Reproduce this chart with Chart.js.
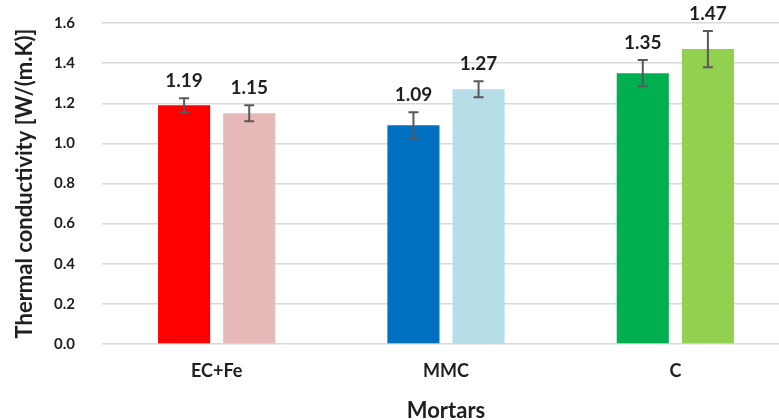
<!DOCTYPE html>
<html>
<head>
<meta charset="utf-8">
<script src="https://cdn.jsdelivr.net/npm/chart.js@4.4.1/dist/chart.umd.min.js"></script>
<style>
  html, body { margin: 0; padding: 0; background: #fff; overflow: hidden; }
  #wrap { width: 790px; height: 420px; position: relative; }
</style>
</head>
<body>
<div id="wrap"><canvas id="c"></canvas></div>
<script>
// Mortar types on the x axis
const categories = ['EC+Fe', 'MMC', 'C'];
// Thermal conductivity, first and second bar of each group [W/(m.K)]
const seriesA = [1.19, 1.09, 1.35];
const seriesB = [1.15, 1.27, 1.47];
// Standard deviations drawn as error bars
const errorA = [0.035, 0.065, 0.065];
const errorB = [0.04, 0.04, 0.09];
// Y axis ticks
const yTicks = [0, 0.2, 0.4, 0.6, 0.8, 1.0, 1.2, 1.4, 1.6];

const colorsA = ['#FF0000', '#0070C0', '#00B050'];
const colorsB = ['#E6B8B7', '#B7DEE8', '#92D050'];
const FONT = 'Lato, "Open Sans", sans-serif';
const TEXT = '#1F1F1F';

const errorBarPlugin = {
  id: 'errorBars',
  afterDatasetsDraw(chart) {
    const ctx = chart.ctx;
    const y = chart.scales.y;
    const errs = [errorA, errorB];
    chart.data.datasets.forEach((ds, di) => {
      const meta = chart.getDatasetMeta(di);
      meta.data.forEach((bar, i) => {
        const v = ds.data[i];
        const e = errs[di][i];
        const yTop = y.getPixelForValue(v + e);
        const yBot = y.getPixelForValue(v - e);
        const x = bar.x;
        ctx.save();
        ctx.strokeStyle = '#595959';
        ctx.lineWidth = 2;
        ctx.beginPath();
        ctx.moveTo(x, yTop); ctx.lineTo(x, yBot);
        ctx.moveTo(x - 5, yTop); ctx.lineTo(x + 5, yTop);
        ctx.moveTo(x - 5, yBot); ctx.lineTo(x + 5, yBot);
        ctx.stroke();
        // value label above the error bar
        ctx.fillStyle = TEXT;
        ctx.font = 'bold 19px ' + FONT;
        ctx.textAlign = 'center';
        ctx.textBaseline = 'middle';
        ctx.fillText(v.toFixed(2), x, yTop - 17);
        ctx.restore();
      });
    });
  }
};

new Chart(document.getElementById('c'), {
  type: 'bar',
  data: {
    labels: categories,
    datasets: [
      { data: seriesA, backgroundColor: colorsA, categoryPercentage: 0.568, barPercentage: 0.8 },
      { data: seriesB, backgroundColor: colorsB, categoryPercentage: 0.568, barPercentage: 0.8 }
    ]
  },
  options: {
    responsive: true,
    maintainAspectRatio: false,
    animation: false,
    layout: { padding: { top: 23, left: 0, right: 0, bottom: 0 } },
    plugins: { legend: { display: false }, tooltip: { enabled: false } },
    scales: {
      x: {
        grid: { display: false, drawTicks: false },
        border: { display: false },
        ticks: { color: TEXT, font: { family: FONT, size: 18, weight: 'bold' }, padding: 16 },
        title: { display: true, text: 'Mortars', color: TEXT,
                 font: { family: FONT, size: 22, weight: 'bold', lineHeight: 1 }, padding: { top: 0, bottom: -2 } },
        afterFit(s) { s.height = 76; s.paddingLeft = 0; s.paddingRight = 0; }
      },
      y: {
        min: 0, max: 1.6,
        afterBuildTicks(s) { s.ticks = yTicks.map(v => ({ value: v })); },
        grid: { color: '#D9D9D9', lineWidth: 1.5, drawTicks: false },
        border: { display: false },
        ticks: { color: TEXT, font: { family: FONT, size: 15, weight: 'bold' }, padding: 27,
                 callback: v => Number(v).toFixed(1) },
        title: { display: true, text: 'Thermal conductivity [W/(m.K)]', color: TEXT,
                 font: { family: FONT, size: 22, weight: 'bold', lineHeight: 1.2 }, padding: { top: 12, bottom: 0 } },
        afterFit(s) { s.width = 102; s.paddingTop = 0; s.paddingBottom = 0; }
      }
    }
  },
  plugins: [errorBarPlugin]
});
</script>
</body>
</html>
